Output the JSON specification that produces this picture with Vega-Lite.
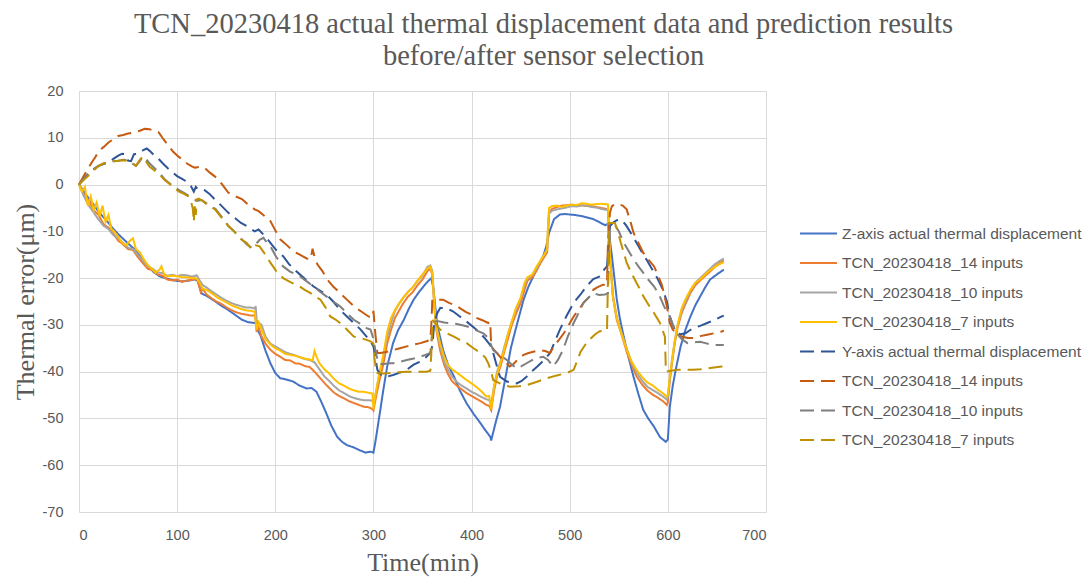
{
"$schema":"https://vega.github.io/schema/vega-lite/v6.json",
"width":687,"height":421,
"autosize":{"type":"none"},
"padding":{"left":79,"top":91,"right":325,"bottom":72},
"background":"white",
"title":{"text":["TCN_20230418 actual thermal displacement data and prediction results","before/after sensor selection"],"font":"Liberation Serif","fontSize":28.5,"fontWeight":"normal","color":"#595959","anchor":"middle","dx":121,"offset":13,"lineHeight":31.5},
"config":{"view":{"stroke":null},"axis":{"labelFont":"Liberation Sans","labelFontSize":14.5,"labelColor":"#595959","titleFont":"Liberation Serif","titleFontSize":26,"titleFontWeight":"normal","titleColor":"#595959","gridColor":"#D9D9D9","gridWidth":1,"domain":false,"ticks":false,"labelExpr":"'' + datum.value"}},
"datasets":{"d":[
{"s":"A","t":0,"v":0},{"s":"A","t":5,"v":-1.5},{"s":"A","t":10,"v":-3},{"s":"A","t":16,"v":-4.6},{"s":"A","t":20,"v":-5.8},{"s":"A","t":25,"v":-7},{"s":"A","t":30,"v":-8.2},{"s":"A","t":35,"v":-9.5},{"s":"A","t":40,"v":-10.6},{"s":"A","t":44,"v":-11.4},{"s":"A","t":50,"v":-12.6},{"s":"A","t":57,"v":-13.9},{"s":"A","t":63,"v":-15.5},{"s":"A","t":70,"v":-17.3},{"s":"A","t":76,"v":-18.7},{"s":"A","t":82,"v":-19.6},{"s":"A","t":88,"v":-20},{"s":"A","t":95,"v":-20.4},{"s":"A","t":100,"v":-20.6},{"s":"A","t":105,"v":-20.7},{"s":"A","t":110,"v":-20.6},{"s":"A","t":118,"v":-20.3},{"s":"A","t":121,"v":-20.6},{"s":"A","t":125,"v":-23.3},{"s":"A","t":130,"v":-23.8},{"s":"A","t":139,"v":-25},{"s":"A","t":145,"v":-25.9},{"s":"A","t":152,"v":-26.8},{"s":"A","t":160,"v":-28},{"s":"A","t":166,"v":-28.9},{"s":"A","t":172,"v":-29.4},{"s":"A","t":179,"v":-29.6},{"s":"A","t":181,"v":-29.3},{"s":"A","t":183,"v":-31.5},{"s":"A","t":185,"v":-32.3},{"s":"A","t":190,"v":-35.5},{"s":"A","t":195,"v":-38.2},{"s":"A","t":200,"v":-40.3},{"s":"A","t":205,"v":-41.4},{"s":"A","t":210,"v":-41.6},{"s":"A","t":218,"v":-42.1},{"s":"A","t":225,"v":-43},{"s":"A","t":232,"v":-43.6},{"s":"A","t":237,"v":-43.5},{"s":"A","t":242,"v":-44.3},{"s":"A","t":247,"v":-46.5},{"s":"A","t":252,"v":-48.9},{"s":"A","t":257,"v":-51.5},{"s":"A","t":263,"v":-53.9},{"s":"A","t":268,"v":-55},{"s":"A","t":273,"v":-55.7},{"s":"A","t":280,"v":-56.2},{"s":"A","t":286,"v":-56.8},{"s":"A","t":292,"v":-57.3},{"s":"A","t":297,"v":-57.1},{"s":"A","t":300,"v":-57.3},{"s":"A","t":302,"v":-55},{"s":"A","t":307,"v":-48.2},{"s":"A","t":310,"v":-44},{"s":"A","t":314,"v":-38.9},{"s":"A","t":320,"v":-33.9},{"s":"A","t":325,"v":-31.2},{"s":"A","t":331,"v":-28.9},{"s":"A","t":336,"v":-26.6},{"s":"A","t":341,"v":-24.6},{"s":"A","t":346,"v":-23.1},{"s":"A","t":351,"v":-21.8},{"s":"A","t":355,"v":-20.8},{"s":"A","t":359,"v":-20},{"s":"A","t":361,"v":-22},{"s":"A","t":365,"v":-30},{"s":"A","t":371,"v":-35.4},{"s":"A","t":376,"v":-38.5},{"s":"A","t":382,"v":-41},{"s":"A","t":388,"v":-44},{"s":"A","t":395,"v":-46.8},{"s":"A","t":402,"v":-49},{"s":"A","t":409,"v":-51},{"s":"A","t":414,"v":-52.5},{"s":"A","t":419,"v":-53.9},{"s":"A","t":420,"v":-54.7},{"s":"A","t":422,"v":-53},{"s":"A","t":425,"v":-50.5},{"s":"A","t":429,"v":-47.5},{"s":"A","t":433,"v":-43},{"s":"A","t":436,"v":-39.6},{"s":"A","t":440,"v":-35},{"s":"A","t":443,"v":-32.5},{"s":"A","t":448,"v":-28.5},{"s":"A","t":453,"v":-24.6},{"s":"A","t":458,"v":-21.8},{"s":"A","t":463,"v":-19.6},{"s":"A","t":468,"v":-17.3},{"s":"A","t":473,"v":-15.3},{"s":"A","t":476,"v":-13.3},{"s":"A","t":479,"v":-10.3},{"s":"A","t":484,"v":-7.4},{"s":"A","t":490,"v":-6.4},{"s":"A","t":495,"v":-6.3},{"s":"A","t":500,"v":-6.4},{"s":"A","t":505,"v":-6.5},{"s":"A","t":511,"v":-6.7},{"s":"A","t":517,"v":-7},{"s":"A","t":524,"v":-7.4},{"s":"A","t":530,"v":-8},{"s":"A","t":536,"v":-8.7},{"s":"A","t":539,"v":-8.4},{"s":"A","t":541,"v":-12},{"s":"A","t":543,"v":-15.3},{"s":"A","t":548,"v":-24.6},{"s":"A","t":551,"v":-28.5},{"s":"A","t":555,"v":-32.5},{"s":"A","t":560,"v":-37},{"s":"A","t":565,"v":-41.1},{"s":"A","t":570,"v":-44.8},{"s":"A","t":575,"v":-48.2},{"s":"A","t":580,"v":-50},{"s":"A","t":586,"v":-51.8},{"s":"A","t":592,"v":-54},{"s":"A","t":598,"v":-55},{"s":"A","t":600,"v":-54.5},{"s":"A","t":602,"v":-47.5},{"s":"A","t":605,"v":-43},{"s":"A","t":608,"v":-39.6},{"s":"A","t":613,"v":-34.6},{"s":"A","t":618,"v":-31},{"s":"A","t":623,"v":-28.2},{"s":"A","t":628,"v":-25.8},{"s":"A","t":633,"v":-23.9},{"s":"A","t":638,"v":-22},{"s":"A","t":643,"v":-20.3},{"s":"A","t":650,"v":-19.2},{"s":"A","t":657,"v":-18.2},
{"s":"B","t":0,"v":0},{"s":"B","t":5,"v":-2},{"s":"B","t":10,"v":-3.5},{"s":"B","t":15,"v":-5.5},{"s":"B","t":20,"v":-6.5},{"s":"B","t":25,"v":-8.5},{"s":"B","t":30,"v":-9.2},{"s":"B","t":35,"v":-10.5},{"s":"B","t":40,"v":-12},{"s":"B","t":45,"v":-12.8},{"s":"B","t":50,"v":-13.8},{"s":"B","t":55,"v":-14},{"s":"B","t":60,"v":-15.5},{"s":"B","t":65,"v":-16.8},{"s":"B","t":70,"v":-18},{"s":"B","t":75,"v":-18.3},{"s":"B","t":80,"v":-19.2},{"s":"B","t":85,"v":-19.5},{"s":"B","t":90,"v":-20.3},{"s":"B","t":95,"v":-20.5},{"s":"B","t":100,"v":-20.3},{"s":"B","t":105,"v":-20.8},{"s":"B","t":110,"v":-20.5},{"s":"B","t":115,"v":-20.4},{"s":"B","t":118,"v":-20},{"s":"B","t":121,"v":-20.6},{"s":"B","t":124,"v":-23},{"s":"B","t":126,"v":-22.3},{"s":"B","t":130,"v":-23.5},{"s":"B","t":135,"v":-24.3},{"s":"B","t":140,"v":-25},{"s":"B","t":145,"v":-25.5},{"s":"B","t":150,"v":-26.2},{"s":"B","t":155,"v":-26.8},{"s":"B","t":160,"v":-27.3},{"s":"B","t":165,"v":-27.6},{"s":"B","t":170,"v":-27.8},{"s":"B","t":175,"v":-28},{"s":"B","t":179,"v":-28},{"s":"B","t":180,"v":-29},{"s":"B","t":181,"v":-31.5},{"s":"B","t":183,"v":-30.5},{"s":"B","t":186,"v":-32.5},{"s":"B","t":190,"v":-34},{"s":"B","t":195,"v":-35.3},{"s":"B","t":200,"v":-36.2},{"s":"B","t":205,"v":-36.8},{"s":"B","t":210,"v":-37.5},{"s":"B","t":215,"v":-37.6},{"s":"B","t":220,"v":-38.2},{"s":"B","t":225,"v":-38.3},{"s":"B","t":230,"v":-38.8},{"s":"B","t":235,"v":-39},{"s":"B","t":240,"v":-40},{"s":"B","t":245,"v":-41.2},{"s":"B","t":250,"v":-42.4},{"s":"B","t":255,"v":-43.5},{"s":"B","t":260,"v":-44.5},{"s":"B","t":265,"v":-45.2},{"s":"B","t":270,"v":-45.7},{"s":"B","t":275,"v":-46.3},{"s":"B","t":280,"v":-46.7},{"s":"B","t":285,"v":-47.1},{"s":"B","t":290,"v":-47.5},{"s":"B","t":295,"v":-47.6},{"s":"B","t":299,"v":-48},{"s":"B","t":300,"v":-48.3},{"s":"B","t":303,"v":-45},{"s":"B","t":306,"v":-42},{"s":"B","t":310,"v":-38.5},{"s":"B","t":314,"v":-34},{"s":"B","t":318,"v":-31},{"s":"B","t":322,"v":-28.5},{"s":"B","t":326,"v":-27},{"s":"B","t":330,"v":-25.5},{"s":"B","t":335,"v":-24},{"s":"B","t":340,"v":-23},{"s":"B","t":345,"v":-21.5},{"s":"B","t":350,"v":-20.3},{"s":"B","t":355,"v":-18.5},{"s":"B","t":358,"v":-18},{"s":"B","t":360,"v":-19.3},{"s":"B","t":362,"v":-26},{"s":"B","t":364,"v":-31},{"s":"B","t":368,"v":-35.5},{"s":"B","t":372,"v":-38.5},{"s":"B","t":376,"v":-40.5},{"s":"B","t":380,"v":-42},{"s":"B","t":385,"v":-43},{"s":"B","t":390,"v":-43.8},{"s":"B","t":395,"v":-44.6},{"s":"B","t":400,"v":-45.2},{"s":"B","t":405,"v":-45.8},{"s":"B","t":410,"v":-46.4},{"s":"B","t":415,"v":-47.1},{"s":"B","t":418,"v":-47.3},{"s":"B","t":420,"v":-48.2},{"s":"B","t":423,"v":-44},{"s":"B","t":426,"v":-41},{"s":"B","t":430,"v":-38.5},{"s":"B","t":433,"v":-36},{"s":"B","t":437,"v":-33},{"s":"B","t":441,"v":-30},{"s":"B","t":445,"v":-27.8},{"s":"B","t":450,"v":-25.3},{"s":"B","t":454,"v":-22.5},{"s":"B","t":457,"v":-20.5},{"s":"B","t":462,"v":-19.8},{"s":"B","t":466,"v":-18.5},{"s":"B","t":470,"v":-16.9},{"s":"B","t":474,"v":-15.5},{"s":"B","t":477,"v":-14.5},{"s":"B","t":478,"v":-10},{"s":"B","t":479,"v":-6},{"s":"B","t":482,"v":-5.2},{"s":"B","t":487,"v":-4.8},{"s":"B","t":492,"v":-4.5},{"s":"B","t":497,"v":-4.4},{"s":"B","t":502,"v":-4.3},{"s":"B","t":507,"v":-4.5},{"s":"B","t":512,"v":-4.4},{"s":"B","t":517,"v":-4.6},{"s":"B","t":522,"v":-4.6},{"s":"B","t":527,"v":-4.8},{"s":"B","t":532,"v":-5},{"s":"B","t":537,"v":-5.2},{"s":"B","t":539,"v":-5.4},{"s":"B","t":540,"v":-10},{"s":"B","t":541,"v":-15},{"s":"B","t":544,"v":-24},{"s":"B","t":548,"v":-29},{"s":"B","t":552,"v":-31.5},{"s":"B","t":558,"v":-35.7},{"s":"B","t":563,"v":-38.5},{"s":"B","t":568,"v":-41},{"s":"B","t":574,"v":-42.8},{"s":"B","t":579,"v":-44},{"s":"B","t":585,"v":-45},{"s":"B","t":590,"v":-45.6},{"s":"B","t":595,"v":-46.3},{"s":"B","t":599,"v":-47.1},{"s":"B","t":600,"v":-46.5},{"s":"B","t":602,"v":-42},{"s":"B","t":604,"v":-38.5},{"s":"B","t":607,"v":-34},{"s":"B","t":610,"v":-30.5},{"s":"B","t":614,"v":-27.5},{"s":"B","t":618,"v":-25.5},{"s":"B","t":623,"v":-23.2},{"s":"B","t":628,"v":-21.5},{"s":"B","t":633,"v":-20.5},{"s":"B","t":638,"v":-19.5},{"s":"B","t":643,"v":-18.6},{"s":"B","t":648,"v":-17.6},{"s":"B","t":653,"v":-16.7},{"s":"B","t":657,"v":-16.2},
{"s":"C","t":0,"v":0},{"s":"C","t":5,"v":-2.5},{"s":"C","t":10,"v":-4.5},{"s":"C","t":15,"v":-6},{"s":"C","t":20,"v":-7.5},{"s":"C","t":25,"v":-8.8},{"s":"C","t":30,"v":-9.5},{"s":"C","t":35,"v":-10.8},{"s":"C","t":40,"v":-11.5},{"s":"C","t":45,"v":-12.5},{"s":"C","t":50,"v":-13.5},{"s":"C","t":55,"v":-13.8},{"s":"C","t":60,"v":-15},{"s":"C","t":65,"v":-16.3},{"s":"C","t":70,"v":-17.5},{"s":"C","t":75,"v":-18},{"s":"C","t":80,"v":-18.8},{"s":"C","t":85,"v":-18.9},{"s":"C","t":90,"v":-19.5},{"s":"C","t":95,"v":-19.3},{"s":"C","t":100,"v":-19.6},{"s":"C","t":105,"v":-19.3},{"s":"C","t":110,"v":-19.4},{"s":"C","t":115,"v":-19.7},{"s":"C","t":120,"v":-19.4},{"s":"C","t":123,"v":-20.5},{"s":"C","t":126,"v":-21.5},{"s":"C","t":130,"v":-22},{"s":"C","t":135,"v":-22.8},{"s":"C","t":140,"v":-23.5},{"s":"C","t":145,"v":-24.2},{"s":"C","t":150,"v":-24.8},{"s":"C","t":155,"v":-25.3},{"s":"C","t":160,"v":-25.7},{"s":"C","t":165,"v":-26},{"s":"C","t":170,"v":-26.3},{"s":"C","t":175,"v":-26.3},{"s":"C","t":179,"v":-26.5},{"s":"C","t":180,"v":-26},{"s":"C","t":181,"v":-29},{"s":"C","t":183,"v":-29.5},{"s":"C","t":186,"v":-30},{"s":"C","t":190,"v":-32.5},{"s":"C","t":195,"v":-34},{"s":"C","t":200,"v":-34.6},{"s":"C","t":205,"v":-35.2},{"s":"C","t":210,"v":-35.8},{"s":"C","t":215,"v":-36.2},{"s":"C","t":220,"v":-36.5},{"s":"C","t":225,"v":-36.9},{"s":"C","t":230,"v":-37.3},{"s":"C","t":235,"v":-37.5},{"s":"C","t":240,"v":-38},{"s":"C","t":245,"v":-39.5},{"s":"C","t":250,"v":-41},{"s":"C","t":255,"v":-42},{"s":"C","t":260,"v":-43.1},{"s":"C","t":265,"v":-44},{"s":"C","t":270,"v":-44.6},{"s":"C","t":275,"v":-45.2},{"s":"C","t":280,"v":-45.6},{"s":"C","t":285,"v":-45.9},{"s":"C","t":290,"v":-46.1},{"s":"C","t":295,"v":-46.1},{"s":"C","t":299,"v":-46.2},{"s":"C","t":300,"v":-47},{"s":"C","t":303,"v":-44},{"s":"C","t":306,"v":-40.5},{"s":"C","t":310,"v":-37},{"s":"C","t":314,"v":-32.5},{"s":"C","t":318,"v":-29.5},{"s":"C","t":322,"v":-27},{"s":"C","t":326,"v":-25.5},{"s":"C","t":330,"v":-24.3},{"s":"C","t":335,"v":-23},{"s":"C","t":340,"v":-22},{"s":"C","t":345,"v":-20.6},{"s":"C","t":350,"v":-19.4},{"s":"C","t":355,"v":-17.6},{"s":"C","t":358,"v":-17.3},{"s":"C","t":360,"v":-18.5},{"s":"C","t":362,"v":-25},{"s":"C","t":364,"v":-30},{"s":"C","t":368,"v":-34.5},{"s":"C","t":372,"v":-37.8},{"s":"C","t":376,"v":-39.6},{"s":"C","t":380,"v":-41},{"s":"C","t":385,"v":-42.2},{"s":"C","t":390,"v":-43},{"s":"C","t":395,"v":-43.6},{"s":"C","t":400,"v":-44.3},{"s":"C","t":405,"v":-44.8},{"s":"C","t":410,"v":-45.4},{"s":"C","t":415,"v":-45.9},{"s":"C","t":418,"v":-46.1},{"s":"C","t":420,"v":-47},{"s":"C","t":423,"v":-43},{"s":"C","t":426,"v":-40},{"s":"C","t":430,"v":-37.5},{"s":"C","t":433,"v":-35},{"s":"C","t":437,"v":-32},{"s":"C","t":441,"v":-29.3},{"s":"C","t":445,"v":-27},{"s":"C","t":450,"v":-24.4},{"s":"C","t":454,"v":-21.5},{"s":"C","t":457,"v":-20},{"s":"C","t":462,"v":-19.3},{"s":"C","t":466,"v":-18},{"s":"C","t":470,"v":-16.5},{"s":"C","t":474,"v":-15},{"s":"C","t":477,"v":-14},{"s":"C","t":478,"v":-9},{"s":"C","t":479,"v":-6.2},{"s":"C","t":482,"v":-5.6},{"s":"C","t":487,"v":-5.3},{"s":"C","t":492,"v":-5.1},{"s":"C","t":497,"v":-4.9},{"s":"C","t":502,"v":-4.6},{"s":"C","t":507,"v":-4.7},{"s":"C","t":512,"v":-4.5},{"s":"C","t":517,"v":-4.5},{"s":"C","t":522,"v":-4.8},{"s":"C","t":527,"v":-4.9},{"s":"C","t":532,"v":-5.2},{"s":"C","t":537,"v":-5.4},{"s":"C","t":539,"v":-5.5},{"s":"C","t":540,"v":-10},{"s":"C","t":541,"v":-15},{"s":"C","t":544,"v":-23.5},{"s":"C","t":548,"v":-28.5},{"s":"C","t":552,"v":-31},{"s":"C","t":558,"v":-35},{"s":"C","t":563,"v":-38},{"s":"C","t":568,"v":-40.2},{"s":"C","t":574,"v":-42},{"s":"C","t":579,"v":-43.2},{"s":"C","t":585,"v":-44},{"s":"C","t":590,"v":-44.6},{"s":"C","t":595,"v":-45.3},{"s":"C","t":599,"v":-46},{"s":"C","t":600,"v":-45.5},{"s":"C","t":602,"v":-41.5},{"s":"C","t":604,"v":-37.8},{"s":"C","t":607,"v":-33.5},{"s":"C","t":610,"v":-30},{"s":"C","t":614,"v":-27},{"s":"C","t":618,"v":-25},{"s":"C","t":623,"v":-22.7},{"s":"C","t":628,"v":-21},{"s":"C","t":633,"v":-20},{"s":"C","t":638,"v":-19},{"s":"C","t":643,"v":-18},{"s":"C","t":648,"v":-17},{"s":"C","t":653,"v":-16.3},{"s":"C","t":657,"v":-15.8},
{"s":"D","t":0,"v":0},{"s":"D","t":3,"v":-1.5},{"s":"D","t":6,"v":-0.5},{"s":"D","t":9,"v":-4.5},{"s":"D","t":12,"v":-2.5},{"s":"D","t":15,"v":-5.5},{"s":"D","t":18,"v":-3.8},{"s":"D","t":21,"v":-6.8},{"s":"D","t":24,"v":-4.5},{"s":"D","t":27,"v":-8},{"s":"D","t":30,"v":-6.5},{"s":"D","t":33,"v":-9.5},{"s":"D","t":36,"v":-10},{"s":"D","t":40,"v":-11.2},{"s":"D","t":44,"v":-12.5},{"s":"D","t":48,"v":-13},{"s":"D","t":52,"v":-12},{"s":"D","t":55,"v":-11.5},{"s":"D","t":58,"v":-13.8},{"s":"D","t":62,"v":-14.5},{"s":"D","t":66,"v":-16},{"s":"D","t":70,"v":-17.2},{"s":"D","t":74,"v":-18},{"s":"D","t":78,"v":-18.8},{"s":"D","t":82,"v":-18.2},{"s":"D","t":84,"v":-17.5},{"s":"D","t":87,"v":-19.3},{"s":"D","t":90,"v":-19.6},{"s":"D","t":95,"v":-19.5},{"s":"D","t":100,"v":-19.6},{"s":"D","t":105,"v":-19.8},{"s":"D","t":110,"v":-19.8},{"s":"D","t":115,"v":-20},{"s":"D","t":120,"v":-20.1},{"s":"D","t":123,"v":-21},{"s":"D","t":126,"v":-22.3},{"s":"D","t":130,"v":-22.5},{"s":"D","t":135,"v":-23.2},{"s":"D","t":140,"v":-24},{"s":"D","t":145,"v":-24.6},{"s":"D","t":150,"v":-25.2},{"s":"D","t":155,"v":-25.8},{"s":"D","t":160,"v":-26.2},{"s":"D","t":165,"v":-26.6},{"s":"D","t":170,"v":-26.9},{"s":"D","t":175,"v":-27},{"s":"D","t":179,"v":-27.2},{"s":"D","t":181,"v":-31},{"s":"D","t":183,"v":-29.5},{"s":"D","t":186,"v":-31},{"s":"D","t":190,"v":-33},{"s":"D","t":195,"v":-34.2},{"s":"D","t":200,"v":-35},{"s":"D","t":205,"v":-35.5},{"s":"D","t":210,"v":-36.2},{"s":"D","t":215,"v":-36.4},{"s":"D","t":220,"v":-36.6},{"s":"D","t":225,"v":-36.9},{"s":"D","t":230,"v":-37.2},{"s":"D","t":235,"v":-37.4},{"s":"D","t":238,"v":-37.6},{"s":"D","t":240,"v":-35.6},{"s":"D","t":242,"v":-36.8},{"s":"D","t":245,"v":-38.2},{"s":"D","t":250,"v":-39.5},{"s":"D","t":255,"v":-40.4},{"s":"D","t":260,"v":-41.6},{"s":"D","t":265,"v":-42.5},{"s":"D","t":270,"v":-43},{"s":"D","t":275,"v":-43.6},{"s":"D","t":280,"v":-44},{"s":"D","t":285,"v":-44.3},{"s":"D","t":290,"v":-44.3},{"s":"D","t":295,"v":-44.5},{"s":"D","t":299,"v":-44.7},{"s":"D","t":300,"v":-48},{"s":"D","t":302,"v":-45},{"s":"D","t":305,"v":-41.5},{"s":"D","t":310,"v":-36.5},{"s":"D","t":314,"v":-31.5},{"s":"D","t":318,"v":-28.5},{"s":"D","t":322,"v":-26.8},{"s":"D","t":326,"v":-25.5},{"s":"D","t":330,"v":-24.3},{"s":"D","t":335,"v":-23},{"s":"D","t":340,"v":-22},{"s":"D","t":345,"v":-20.5},{"s":"D","t":350,"v":-19.2},{"s":"D","t":355,"v":-18},{"s":"D","t":358,"v":-17.6},{"s":"D","t":360,"v":-19},{"s":"D","t":362,"v":-25.5},{"s":"D","t":364,"v":-30.5},{"s":"D","t":368,"v":-34},{"s":"D","t":372,"v":-36.8},{"s":"D","t":376,"v":-38.6},{"s":"D","t":380,"v":-39.5},{"s":"D","t":385,"v":-40.2},{"s":"D","t":390,"v":-41},{"s":"D","t":395,"v":-41.8},{"s":"D","t":400,"v":-42.5},{"s":"D","t":405,"v":-43.3},{"s":"D","t":410,"v":-44.2},{"s":"D","t":415,"v":-45.3},{"s":"D","t":418,"v":-45.2},{"s":"D","t":420,"v":-48},{"s":"D","t":423,"v":-43},{"s":"D","t":426,"v":-40.5},{"s":"D","t":430,"v":-37.8},{"s":"D","t":433,"v":-35.5},{"s":"D","t":437,"v":-32},{"s":"D","t":441,"v":-29.3},{"s":"D","t":445,"v":-26.5},{"s":"D","t":450,"v":-24.2},{"s":"D","t":454,"v":-21},{"s":"D","t":457,"v":-19.8},{"s":"D","t":462,"v":-19.2},{"s":"D","t":466,"v":-17.6},{"s":"D","t":470,"v":-16.3},{"s":"D","t":474,"v":-15},{"s":"D","t":477,"v":-13.8},{"s":"D","t":478,"v":-8},{"s":"D","t":479,"v":-5},{"s":"D","t":482,"v":-4.6},{"s":"D","t":487,"v":-4.5},{"s":"D","t":492,"v":-4.8},{"s":"D","t":497,"v":-4.5},{"s":"D","t":502,"v":-4.3},{"s":"D","t":507,"v":-4.4},{"s":"D","t":512,"v":-4},{"s":"D","t":517,"v":-4.1},{"s":"D","t":522,"v":-4.3},{"s":"D","t":527,"v":-4.2},{"s":"D","t":532,"v":-4.1},{"s":"D","t":537,"v":-4.2},{"s":"D","t":539,"v":-4.3},{"s":"D","t":540,"v":-10},{"s":"D","t":541,"v":-15.5},{"s":"D","t":544,"v":-24},{"s":"D","t":548,"v":-28.5},{"s":"D","t":552,"v":-31.5},{"s":"D","t":558,"v":-35.2},{"s":"D","t":563,"v":-37.8},{"s":"D","t":568,"v":-39.6},{"s":"D","t":574,"v":-41.2},{"s":"D","t":579,"v":-42.3},{"s":"D","t":585,"v":-43},{"s":"D","t":590,"v":-43.9},{"s":"D","t":595,"v":-44.6},{"s":"D","t":599,"v":-45.4},{"s":"D","t":600,"v":-45},{"s":"D","t":602,"v":-41},{"s":"D","t":604,"v":-38},{"s":"D","t":607,"v":-33.5},{"s":"D","t":610,"v":-30},{"s":"D","t":614,"v":-26.5},{"s":"D","t":618,"v":-24.5},{"s":"D","t":623,"v":-22.5},{"s":"D","t":628,"v":-21},{"s":"D","t":633,"v":-20.3},{"s":"D","t":638,"v":-19.2},{"s":"D","t":643,"v":-18.3},{"s":"D","t":648,"v":-17.6},{"s":"D","t":653,"v":-17},{"s":"D","t":657,"v":-16.6},
{"s":"E","t":0,"v":0},{"s":"E","t":5,"v":1.3},{"s":"E","t":10,"v":2.5},{"s":"E","t":15,"v":3.3},{"s":"E","t":20,"v":4},{"s":"E","t":25,"v":4.4},{"s":"E","t":30,"v":4.7},{"s":"E","t":35,"v":5.5},{"s":"E","t":40,"v":6.2},{"s":"E","t":44,"v":6.6},{"s":"E","t":47,"v":6.5},{"s":"E","t":50,"v":5.1},{"s":"E","t":53,"v":5},{"s":"E","t":56,"v":6.5},{"s":"E","t":60,"v":6.6},{"s":"E","t":65,"v":7.3},{"s":"E","t":69,"v":7.7},{"s":"E","t":72,"v":7.2},{"s":"E","t":77,"v":6.2},{"s":"E","t":81,"v":5.5},{"s":"E","t":86,"v":4.4},{"s":"E","t":91,"v":3.4},{"s":"E","t":96,"v":2.5},{"s":"E","t":100,"v":1.8},{"s":"E","t":105,"v":1.2},{"s":"E","t":110,"v":0.6},{"s":"E","t":114,"v":-0.3},{"s":"E","t":117,"v":-1.5},{"s":"E","t":119,"v":-0.5},{"s":"E","t":121,"v":-1},{"s":"E","t":125,"v":-1},{"s":"E","t":128,"v":-1.2},{"s":"E","t":133,"v":-2},{"s":"E","t":138,"v":-3.1},{"s":"E","t":145,"v":-4.5},{"s":"E","t":152,"v":-6},{"s":"E","t":158,"v":-7},{"s":"E","t":165,"v":-8.2},{"s":"E","t":172,"v":-9},{"s":"E","t":179,"v":-10},{"s":"E","t":183,"v":-9.6},{"s":"E","t":187,"v":-10.5},{"s":"E","t":191,"v":-11.4},{"s":"E","t":197,"v":-13},{"s":"E","t":203,"v":-14.5},{"s":"E","t":208,"v":-15.3},{"s":"E","t":214,"v":-17},{"s":"E","t":220,"v":-18.3},{"s":"E","t":225,"v":-19.2},{"s":"E","t":232,"v":-20.5},{"s":"E","t":239,"v":-21.8},{"s":"E","t":245,"v":-22.6},{"s":"E","t":252,"v":-23.5},{"s":"E","t":259,"v":-25},{"s":"E","t":266,"v":-26.8},{"s":"E","t":273,"v":-28.2},{"s":"E","t":280,"v":-29.6},{"s":"E","t":287,"v":-31},{"s":"E","t":293,"v":-32.5},{"s":"E","t":297,"v":-33.5},{"s":"E","t":300,"v":-34.6},{"s":"E","t":302,"v":-37},{"s":"E","t":304,"v":-39.6},{"s":"E","t":307,"v":-40.5},{"s":"E","t":310,"v":-41.1},{"s":"E","t":315,"v":-41},{"s":"E","t":320,"v":-40.7},{"s":"E","t":327,"v":-40.2},{"s":"E","t":334,"v":-39.6},{"s":"E","t":341,"v":-38.5},{"s":"E","t":348,"v":-37.8},{"s":"E","t":353,"v":-37},{"s":"E","t":358,"v":-36},{"s":"E","t":360,"v":-34.5},{"s":"E","t":362,"v":-29.6},{"s":"E","t":365,"v":-27.5},{"s":"E","t":368,"v":-26.4},{"s":"E","t":374,"v":-26.4},{"s":"E","t":381,"v":-27.1},{"s":"E","t":388,"v":-28.2},{"s":"E","t":395,"v":-29.3},{"s":"E","t":402,"v":-30.5},{"s":"E","t":409,"v":-31.8},{"s":"E","t":414,"v":-33},{"s":"E","t":419,"v":-34.3},{"s":"E","t":422,"v":-36},{"s":"E","t":426,"v":-39},{"s":"E","t":429,"v":-41.1},{"s":"E","t":436,"v":-42.1},{"s":"E","t":442,"v":-42.4},{"s":"E","t":446,"v":-42.5},{"s":"E","t":451,"v":-42},{"s":"E","t":456,"v":-41.1},{"s":"E","t":461,"v":-40},{"s":"E","t":467,"v":-38.9},{"s":"E","t":474,"v":-37.5},{"s":"E","t":480,"v":-36},{"s":"E","t":485,"v":-33.5},{"s":"E","t":490,"v":-31},{"s":"E","t":497,"v":-28},{"s":"E","t":504,"v":-25.3},{"s":"E","t":511,"v":-23.5},{"s":"E","t":517,"v":-21.8},{"s":"E","t":524,"v":-20.2},{"s":"E","t":531,"v":-19.6},{"s":"E","t":535,"v":-18.2},{"s":"E","t":538,"v":-17.5},{"s":"E","t":540,"v":-12},{"s":"E","t":541,"v":-8.9},{"s":"E","t":545,"v":-8},{"s":"E","t":550,"v":-7.4},{"s":"E","t":554,"v":-7.8},{"s":"E","t":558,"v":-8.9},{"s":"E","t":565,"v":-11.3},{"s":"E","t":572,"v":-13.9},{"s":"E","t":579,"v":-16.3},{"s":"E","t":585,"v":-18.5},{"s":"E","t":590,"v":-20.3},{"s":"E","t":595,"v":-22.5},{"s":"E","t":599,"v":-25},{"s":"E","t":602,"v":-28.2},{"s":"E","t":605,"v":-30},{"s":"E","t":609,"v":-31.8},{"s":"E","t":613,"v":-32},{"s":"E","t":618,"v":-31.8},{"s":"E","t":622,"v":-31.2},{"s":"E","t":626,"v":-30.7},{"s":"E","t":633,"v":-30.2},{"s":"E","t":640,"v":-29.6},{"s":"E","t":647,"v":-29},{"s":"E","t":655,"v":-28.2},{"s":"E","t":657,"v":-28},
{"s":"F","t":0,"v":0},{"s":"F","t":4,"v":1.5},{"s":"F","t":8,"v":3},{"s":"F","t":13,"v":4.7},{"s":"F","t":17,"v":6},{"s":"F","t":20,"v":7.2},{"s":"F","t":25,"v":8},{"s":"F","t":30,"v":9},{"s":"F","t":35,"v":9.7},{"s":"F","t":40,"v":10.4},{"s":"F","t":45,"v":10.6},{"s":"F","t":50,"v":10.9},{"s":"F","t":57,"v":11.2},{"s":"F","t":62,"v":11.5},{"s":"F","t":67,"v":11.9},{"s":"F","t":72,"v":11.8},{"s":"F","t":77,"v":11.5},{"s":"F","t":81,"v":11.2},{"s":"F","t":85,"v":10},{"s":"F","t":91,"v":8.3},{"s":"F","t":96,"v":7},{"s":"F","t":100,"v":6.2},{"s":"F","t":105,"v":5.4},{"s":"F","t":110,"v":4.5},{"s":"F","t":115,"v":3.9},{"s":"F","t":118,"v":3.6},{"s":"F","t":123,"v":3.8},{"s":"F","t":128,"v":3.6},{"s":"F","t":133,"v":2.6},{"s":"F","t":138,"v":1.8},{"s":"F","t":142,"v":1.1},{"s":"F","t":147,"v":-0.3},{"s":"F","t":152,"v":-1.7},{"s":"F","t":158,"v":-2.4},{"s":"F","t":166,"v":-3.1},{"s":"F","t":172,"v":-4.2},{"s":"F","t":179,"v":-5.3},{"s":"F","t":183,"v":-5.7},{"s":"F","t":189,"v":-6.7},{"s":"F","t":195,"v":-7.8},{"s":"F","t":200,"v":-9.8},{"s":"F","t":205,"v":-11.7},{"s":"F","t":212,"v":-13},{"s":"F","t":218,"v":-14.2},{"s":"F","t":225,"v":-15},{"s":"F","t":232,"v":-15.8},{"s":"F","t":236,"v":-16},{"s":"F","t":238,"v":-13.7},{"s":"F","t":240,"v":-15.5},{"s":"F","t":243,"v":-17.1},{"s":"F","t":248,"v":-18.5},{"s":"F","t":253,"v":-20.3},{"s":"F","t":259,"v":-21.8},{"s":"F","t":266,"v":-23.2},{"s":"F","t":273,"v":-24.6},{"s":"F","t":280,"v":-26},{"s":"F","t":288,"v":-27.2},{"s":"F","t":295,"v":-28.2},{"s":"F","t":299,"v":-28.5},{"s":"F","t":300,"v":-27},{"s":"F","t":302,"v":-32},{"s":"F","t":304,"v":-36},{"s":"F","t":307,"v":-36},{"s":"F","t":313,"v":-35.8},{"s":"F","t":320,"v":-35.4},{"s":"F","t":327,"v":-35},{"s":"F","t":334,"v":-34.6},{"s":"F","t":341,"v":-34.2},{"s":"F","t":348,"v":-33.9},{"s":"F","t":354,"v":-33.5},{"s":"F","t":358,"v":-33.2},{"s":"F","t":359,"v":-30},{"s":"F","t":360,"v":-24.6},{"s":"F","t":365,"v":-24.6},{"s":"F","t":371,"v":-24.6},{"s":"F","t":377,"v":-25.3},{"s":"F","t":383,"v":-25.8},{"s":"F","t":388,"v":-26.4},{"s":"F","t":394,"v":-27.2},{"s":"F","t":400,"v":-27.8},{"s":"F","t":405,"v":-28.5},{"s":"F","t":411,"v":-29},{"s":"F","t":417,"v":-29.6},{"s":"F","t":419,"v":-29.3},{"s":"F","t":420,"v":-34.6},{"s":"F","t":424,"v":-35.6},{"s":"F","t":429,"v":-36.8},{"s":"F","t":434,"v":-37.8},{"s":"F","t":439,"v":-38.9},{"s":"F","t":443,"v":-38.3},{"s":"F","t":448,"v":-37.2},{"s":"F","t":453,"v":-36.4},{"s":"F","t":458,"v":-36},{"s":"F","t":464,"v":-35.7},{"s":"F","t":470,"v":-35.4},{"s":"F","t":475,"v":-35.6},{"s":"F","t":480,"v":-36},{"s":"F","t":484,"v":-34.5},{"s":"F","t":489,"v":-33.2},{"s":"F","t":494,"v":-31.8},{"s":"F","t":499,"v":-30},{"s":"F","t":504,"v":-28.2},{"s":"F","t":509,"v":-26.8},{"s":"F","t":514,"v":-25.3},{"s":"F","t":520,"v":-24},{"s":"F","t":524,"v":-22.5},{"s":"F","t":528,"v":-22},{"s":"F","t":534,"v":-21.4},{"s":"F","t":538,"v":-21.5},{"s":"F","t":539,"v":-12},{"s":"F","t":541,"v":-6},{"s":"F","t":543,"v":-4.6},{"s":"F","t":547,"v":-4.1},{"s":"F","t":550,"v":-4.2},{"s":"F","t":554,"v":-4.5},{"s":"F","t":558,"v":-5.3},{"s":"F","t":562,"v":-8},{"s":"F","t":565,"v":-10.3},{"s":"F","t":570,"v":-12.5},{"s":"F","t":575,"v":-14.6},{"s":"F","t":580,"v":-16},{"s":"F","t":586,"v":-17.5},{"s":"F","t":590,"v":-19.5},{"s":"F","t":594,"v":-21.5},{"s":"F","t":599,"v":-26},{"s":"F","t":602,"v":-29.6},{"s":"F","t":605,"v":-31},{"s":"F","t":609,"v":-31.8},{"s":"F","t":614,"v":-32.5},{"s":"F","t":620,"v":-32.8},{"s":"F","t":626,"v":-32.8},{"s":"F","t":633,"v":-32.4},{"s":"F","t":640,"v":-32.1},{"s":"F","t":647,"v":-31.8},{"s":"F","t":655,"v":-31.4},{"s":"F","t":657,"v":-31.2},
{"s":"G","t":0,"v":0},{"s":"G","t":5,"v":1.3},{"s":"G","t":10,"v":2.5},{"s":"G","t":15,"v":3.3},{"s":"G","t":20,"v":4},{"s":"G","t":25,"v":4.5},{"s":"G","t":30,"v":4.8},{"s":"G","t":35,"v":5},{"s":"G","t":40,"v":5.1},{"s":"G","t":45,"v":5.3},{"s":"G","t":50,"v":5.2},{"s":"G","t":55,"v":4.4},{"s":"G","t":58,"v":4},{"s":"G","t":62,"v":5},{"s":"G","t":65,"v":6},{"s":"G","t":68,"v":5.5},{"s":"G","t":72,"v":4.5},{"s":"G","t":77,"v":3.5},{"s":"G","t":82,"v":2.5},{"s":"G","t":87,"v":1.2},{"s":"G","t":92,"v":0.3},{"s":"G","t":97,"v":-0.5},{"s":"G","t":102,"v":-1.2},{"s":"G","t":107,"v":-1.8},{"s":"G","t":111,"v":-2.3},{"s":"G","t":116,"v":-3},{"s":"G","t":120,"v":-3.5},{"s":"G","t":125,"v":-3.3},{"s":"G","t":130,"v":-4},{"s":"G","t":135,"v":-4.8},{"s":"G","t":139,"v":-5.2},{"s":"G","t":145,"v":-6.8},{"s":"G","t":152,"v":-8.8},{"s":"G","t":158,"v":-10},{"s":"G","t":165,"v":-11.5},{"s":"G","t":171,"v":-12.8},{"s":"G","t":176,"v":-13.5},{"s":"G","t":180,"v":-12.8},{"s":"G","t":184,"v":-11.8},{"s":"G","t":188,"v":-11.4},{"s":"G","t":191,"v":-12.3},{"s":"G","t":195,"v":-13.2},{"s":"G","t":201,"v":-15.5},{"s":"G","t":208,"v":-17.5},{"s":"G","t":215,"v":-18.6},{"s":"G","t":225,"v":-19.6},{"s":"G","t":232,"v":-20.7},{"s":"G","t":239,"v":-21.8},{"s":"G","t":245,"v":-22.8},{"s":"G","t":252,"v":-23.9},{"s":"G","t":259,"v":-25},{"s":"G","t":266,"v":-26},{"s":"G","t":273,"v":-27.5},{"s":"G","t":280,"v":-28.9},{"s":"G","t":287,"v":-29.8},{"s":"G","t":293,"v":-30.7},{"s":"G","t":297,"v":-31},{"s":"G","t":300,"v":-33},{"s":"G","t":302,"v":-35.5},{"s":"G","t":305,"v":-38.2},{"s":"G","t":310,"v":-38.4},{"s":"G","t":315,"v":-38.2},{"s":"G","t":320,"v":-38.2},{"s":"G","t":327,"v":-37.9},{"s":"G","t":334,"v":-37.5},{"s":"G","t":341,"v":-37.2},{"s":"G","t":348,"v":-36.8},{"s":"G","t":353,"v":-36.4},{"s":"G","t":358,"v":-36},{"s":"G","t":359,"v":-34},{"s":"G","t":361,"v":-29.3},{"s":"G","t":366,"v":-29.2},{"s":"G","t":372,"v":-29.5},{"s":"G","t":378,"v":-29.6},{"s":"G","t":385,"v":-29.8},{"s":"G","t":395,"v":-30.3},{"s":"G","t":403,"v":-31},{"s":"G","t":412,"v":-31.8},{"s":"G","t":417,"v":-32.8},{"s":"G","t":422,"v":-35.4},{"s":"G","t":429,"v":-36.5},{"s":"G","t":436,"v":-37.5},{"s":"G","t":441,"v":-38.5},{"s":"G","t":446,"v":-39.3},{"s":"G","t":451,"v":-38.8},{"s":"G","t":456,"v":-38.2},{"s":"G","t":462,"v":-37.5},{"s":"G","t":468,"v":-37},{"s":"G","t":473,"v":-36.8},{"s":"G","t":478,"v":-37.5},{"s":"G","t":483,"v":-38.9},{"s":"G","t":488,"v":-37.5},{"s":"G","t":493,"v":-35.4},{"s":"G","t":498,"v":-32.5},{"s":"G","t":504,"v":-29.6},{"s":"G","t":509,"v":-27.5},{"s":"G","t":514,"v":-25.3},{"s":"G","t":519,"v":-24.2},{"s":"G","t":524,"v":-23.2},{"s":"G","t":530,"v":-23.6},{"s":"G","t":536,"v":-23.5},{"s":"G","t":539,"v":-23.2},{"s":"G","t":540,"v":-15},{"s":"G","t":541,"v":-9.7},{"s":"G","t":546,"v":-8.6},{"s":"G","t":550,"v":-10},{"s":"G","t":555,"v":-12.4},{"s":"G","t":560,"v":-14.2},{"s":"G","t":565,"v":-16},{"s":"G","t":570,"v":-17.5},{"s":"G","t":575,"v":-18.9},{"s":"G","t":580,"v":-20.3},{"s":"G","t":586,"v":-21.8},{"s":"G","t":591,"v":-23.5},{"s":"G","t":596,"v":-26},{"s":"G","t":602,"v":-28.2},{"s":"G","t":605,"v":-30},{"s":"G","t":609,"v":-31.8},{"s":"G","t":614,"v":-33},{"s":"G","t":620,"v":-33.9},{"s":"G","t":627,"v":-33.7},{"s":"G","t":633,"v":-33.6},{"s":"G","t":640,"v":-34},{"s":"G","t":647,"v":-34.3},{"s":"G","t":655,"v":-34.3},{"s":"G","t":657,"v":-34.3},
{"s":"H","t":0,"v":0},{"s":"H","t":5,"v":1},{"s":"H","t":10,"v":2},{"s":"H","t":15,"v":3},{"s":"H","t":20,"v":4},{"s":"H","t":25,"v":4.5},{"s":"H","t":30,"v":4.8},{"s":"H","t":35,"v":5},{"s":"H","t":40,"v":5.1},{"s":"H","t":45,"v":5.2},{"s":"H","t":50,"v":5},{"s":"H","t":55,"v":4.5},{"s":"H","t":58,"v":4},{"s":"H","t":62,"v":5.3},{"s":"H","t":65,"v":6},{"s":"H","t":68,"v":5},{"s":"H","t":72,"v":3.8},{"s":"H","t":77,"v":3},{"s":"H","t":82,"v":2.2},{"s":"H","t":87,"v":1},{"s":"H","t":92,"v":0.2},{"s":"H","t":97,"v":-0.8},{"s":"H","t":102,"v":-1.5},{"s":"H","t":107,"v":-2},{"s":"H","t":111,"v":-2.5},{"s":"H","t":114,"v":-3.5},{"s":"H","t":116,"v":-5.2},{"s":"H","t":117,"v":-8},{"s":"H","t":118,"v":-4},{"s":"H","t":119,"v":-6.5},{"s":"H","t":120,"v":-3.2},{"s":"H","t":122,"v":-3},{"s":"H","t":126,"v":-3.5},{"s":"H","t":130,"v":-4.2},{"s":"H","t":135,"v":-4.8},{"s":"H","t":139,"v":-5.4},{"s":"H","t":145,"v":-7},{"s":"H","t":152,"v":-8.8},{"s":"H","t":158,"v":-10},{"s":"H","t":165,"v":-11.7},{"s":"H","t":171,"v":-12.5},{"s":"H","t":176,"v":-13.9},{"s":"H","t":180,"v":-13},{"s":"H","t":184,"v":-13.2},{"s":"H","t":190,"v":-15},{"s":"H","t":195,"v":-16.7},{"s":"H","t":201,"v":-18.5},{"s":"H","t":208,"v":-20},{"s":"H","t":215,"v":-20.8},{"s":"H","t":225,"v":-21.8},{"s":"H","t":230,"v":-22.5},{"s":"H","t":236,"v":-23.2},{"s":"H","t":241,"v":-24},{"s":"H","t":246,"v":-24.6},{"s":"H","t":251,"v":-26.2},{"s":"H","t":256,"v":-28.2},{"s":"H","t":261,"v":-28.8},{"s":"H","t":266,"v":-29.6},{"s":"H","t":273,"v":-31},{"s":"H","t":280,"v":-32.5},{"s":"H","t":287,"v":-32.8},{"s":"H","t":293,"v":-33.2},{"s":"H","t":297,"v":-33.5},{"s":"H","t":300,"v":-34},{"s":"H","t":301,"v":-37},{"s":"H","t":303,"v":-40.3},{"s":"H","t":310,"v":-40.4},{"s":"H","t":317,"v":-40.3},{"s":"H","t":326,"v":-40.1},{"s":"H","t":334,"v":-40},{"s":"H","t":344,"v":-40},{"s":"H","t":354,"v":-40},{"s":"H","t":358,"v":-39.8},{"s":"H","t":359,"v":-36},{"s":"H","t":360,"v":-28.9},{"s":"H","t":364,"v":-30},{"s":"H","t":368,"v":-31},{"s":"H","t":375,"v":-31.8},{"s":"H","t":382,"v":-32.5},{"s":"H","t":388,"v":-33.2},{"s":"H","t":395,"v":-33.9},{"s":"H","t":402,"v":-35},{"s":"H","t":409,"v":-36},{"s":"H","t":414,"v":-37},{"s":"H","t":417,"v":-38.2},{"s":"H","t":420,"v":-40},{"s":"H","t":422,"v":-41.8},{"s":"H","t":430,"v":-42.6},{"s":"H","t":439,"v":-43.2},{"s":"H","t":448,"v":-43.1},{"s":"H","t":456,"v":-42.9},{"s":"H","t":466,"v":-42.2},{"s":"H","t":477,"v":-41.4},{"s":"H","t":487,"v":-40.8},{"s":"H","t":497,"v":-40.3},{"s":"H","t":504,"v":-39.6},{"s":"H","t":508,"v":-37.5},{"s":"H","t":511,"v":-35.8},{"s":"H","t":516,"v":-34.2},{"s":"H","t":521,"v":-33},{"s":"H","t":526,"v":-32},{"s":"H","t":531,"v":-31.3},{"s":"H","t":535,"v":-31.4},{"s":"H","t":538,"v":-31.2},{"s":"H","t":539,"v":-20},{"s":"H","t":540,"v":-8.2},{"s":"H","t":546,"v":-8.2},{"s":"H","t":549,"v":-10},{"s":"H","t":552,"v":-12.4},{"s":"H","t":555,"v":-14.5},{"s":"H","t":558,"v":-16.7},{"s":"H","t":563,"v":-19},{"s":"H","t":568,"v":-21},{"s":"H","t":572,"v":-22.5},{"s":"H","t":575,"v":-23.9},{"s":"H","t":580,"v":-25.6},{"s":"H","t":586,"v":-27.5},{"s":"H","t":592,"v":-29.6},{"s":"H","t":597,"v":-32.5},{"s":"H","t":598,"v":-40},{"s":"H","t":603,"v":-39.8},{"s":"H","t":609,"v":-39.6},{"s":"H","t":617,"v":-39.6},{"s":"H","t":626,"v":-39.6},{"s":"H","t":633,"v":-39.5},{"s":"H","t":640,"v":-39.3},{"s":"H","t":647,"v":-39.1},{"s":"H","t":655,"v":-38.9},{"s":"H","t":657,"v":-38.9}
]},
"data":{"name":"d"},
"mark":{"type":"line","strokeWidth":2},
"encoding":{
"x":{"field":"t","type":"quantitative","scale":{"domain":[0,700],"nice":false,"zero":false},"axis":{"values":[0,100,200,300,400,500,600,700],"title":"Time(min)","labelPadding":16,"titlePadding":8}},
"y":{"field":"v","type":"quantitative","scale":{"domain":[-70,20],"nice":false,"zero":false},"axis":{"values":[-70,-60,-50,-40,-30,-20,-10,0,10,20],"title":"Thermal error(μm)","labelPadding":16,"titlePadding":4}},
"color":{"field":"s","type":"nominal","scale":{"domain":["A","B","C","D","E","F","G","H"],"range":["#4472C4","#ED7D31","#A5A5A5","#FFC000","#2F5597","#C55A11","#7F7F7F","#BF9000"]},"legend":{"title":null,"orient":"none","legendX":720,"legendY":123,"symbolType":"stroke","symbolSize":1369,"symbolStrokeWidth":2,"labelFont":"Liberation Sans","labelFontSize":15.5,"labelColor":"#595959","labelLimit":320,"rowPadding":1.5,"labelOffset":4,"labelExpr":"['Z-axis actual thermal displacement','TCN_20230418_14 inputs','TCN_20230418_10 inputs','TCN_20230418_7 inputs','Y-axis actual thermal displacement','TCN_20230418_14 inputs','TCN_20230418_10 inputs','TCN_20230418_7 inputs'][indexof(['A','B','C','D','E','F','G','H'], datum.label)]"}},
"strokeDash":{"field":"s","type":"nominal","scale":{"domain":["A","B","C","D","E","F","G","H"],"range":[[1,0],[1,0],[1,0],[1,0],[14,7],[14,7],[14,7],[14,7]]},"legend":{"title":null,"orient":"none","legendX":720,"legendY":123,"symbolType":"stroke","symbolSize":1369,"symbolStrokeWidth":2,"labelFont":"Liberation Sans","labelFontSize":15.5,"labelColor":"#595959","labelLimit":320,"rowPadding":1.5,"labelOffset":4,"labelExpr":"['Z-axis actual thermal displacement','TCN_20230418_14 inputs','TCN_20230418_10 inputs','TCN_20230418_7 inputs','Y-axis actual thermal displacement','TCN_20230418_14 inputs','TCN_20230418_10 inputs','TCN_20230418_7 inputs'][indexof(['A','B','C','D','E','F','G','H'], datum.label)]"}}
}
}
